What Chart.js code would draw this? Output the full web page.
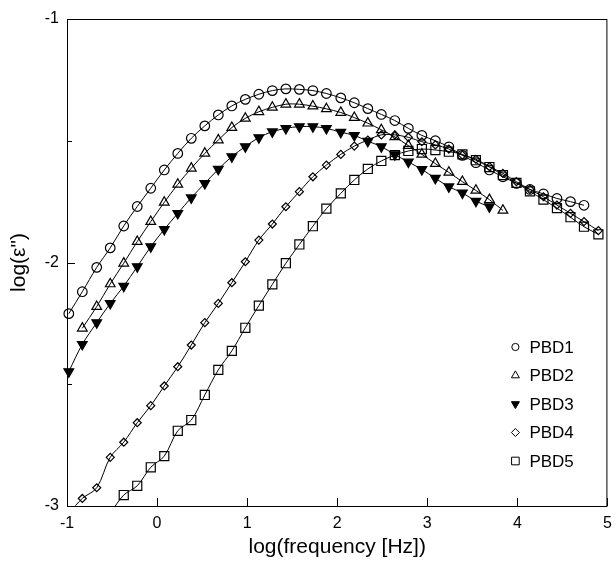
<!DOCTYPE html>
<html>
<head>
<meta charset="utf-8">
<script src="https://cdn.jsdelivr.net/npm/chart.js@4"></script>
<style>
html, body { margin:0; padding:0; background:#fff; }
#wrap { position:relative; width:615px; height:562px; }
</style>
</head>
<body>
<div id="wrap"><canvas id="c"></canvas></div>
<script>
// log10 of frequency, shared grid
const logF = [-0.98, -0.83, -0.67, -0.52, -0.37, -0.22, -0.07, 0.08, 0.23, 0.38,
	0.53, 0.68, 0.83, 0.98, 1.13, 1.28, 1.43, 1.58, 1.73, 1.88,
	2.04, 2.19, 2.34, 2.49, 2.64, 2.79, 2.94, 3.09, 3.24, 3.39,
	3.54, 3.69, 3.84, 3.99, 4.14, 4.29, 4.44, 4.59, 4.74, 4.90];

const pbd1 = [-2.21, -2.12, -2.02, -1.94, -1.85, -1.77, -1.695, -1.62, -1.552, -1.49,
	-1.439, -1.394, -1.357, -1.33, -1.309, -1.294, -1.287, -1.289, -1.294, -1.306,
	-1.324, -1.344, -1.368, -1.392, -1.417, -1.449, -1.478, -1.500, -1.525, -1.560,
	-1.590, -1.620, -1.648, -1.675, -1.700, -1.718, -1.737, -1.750, -1.765, null];

const pbd2 = [null, -2.27, -2.181, -2.088, -2.003, -1.914, -1.832, -1.753, -1.679, -1.613,
	-1.552, -1.497, -1.446, -1.408, -1.381, -1.363, -1.350, -1.350, -1.358, -1.369,
	-1.384, -1.405, -1.428, -1.455, -1.484, -1.520, -1.556, -1.594, -1.630, -1.668,
	-1.704, -1.742, -1.786, null, null, null, null, null, null, null];

const pbd3 = [-2.448, -2.336, -2.247, -2.168, -2.097, -2.017, -1.935, -1.864, -1.798, -1.734,
	-1.675, -1.617, -1.565, -1.524, -1.487, -1.463, -1.449, -1.442, -1.442, -1.449,
	-1.465, -1.478, -1.502, -1.524, -1.557, -1.587, -1.618, -1.654, -1.689, -1.714,
	-1.748, -1.771, null, null, null, null, null, null, null, null];

const pbd4 = [-3.03, -2.969, -2.925, -2.800, -2.738, -2.658, -2.588, -2.507, -2.428, -2.339,
	-2.247, -2.168, -2.083, -1.997, -1.908, -1.842, -1.771, -1.709, -1.648, -1.600,
	-1.556, -1.522, -1.497, -1.476, -1.476, -1.486, -1.504, -1.517, -1.534, -1.559,
	-1.576, -1.606, -1.634, -1.668, -1.700, -1.730, -1.764, -1.798, -1.832, -1.869];

const pbd5 = [null, null, null, -3.03, -2.955, -2.917, -2.841, -2.795, -2.691, -2.647,
	-2.544, -2.441, -2.363, -2.268, -2.177, -2.090, -2.003, -1.926, -1.851, -1.779,
	-1.716, -1.661, -1.616, -1.583, -1.559, -1.542, -1.534, -1.538, -1.545, -1.556,
	-1.580, -1.608, -1.641, -1.673, -1.708, -1.742, -1.777, -1.814, -1.853, -1.884];

const names = ['PBD1', 'PBD2', 'PBD3', 'PBD4', 'PBD5'];
const xTicks = [-1, 0, 1, 2, 3, 4, 5];
const yMajor = [-1, -2, -3];
const yMinor = [-1.5, -2.5];

const pts = v => logF.map((x, i) => ({x, y: v[i]})).filter(p => p.y !== null);

const FONT = '"Liberation Sans", Arial, sans-serif';

const mk = (label, data, style, r, fill, rot, lr) => ({
	label,
	data: pts(data),
	borderColor: '#000',
	borderWidth: 1,
	backgroundColor: fill,
	pointStyle: style,
	pointRadius: r,
	pointRotation: rot || 0,
	pointBorderColor: '#000',
	pointBackgroundColor: fill,
	pointBorderWidth: 1.2,
	tension: 0.35,
	fill: false,
	clip: {left: 8, right: 8, top: 8, bottom: 0},
	legendR: lr,
});

// frame, inward ticks and the in-plot legend
const frame = {
	id: 'frame',
	afterDraw(chart) {
		const c = chart.ctx, a = chart.chartArea;
		const sx = chart.scales.x, sy = chart.scales.y;
		c.save();
		c.strokeStyle = '#000';
		c.lineWidth = 1;
		c.strokeRect(a.left + 0.5, a.top + 0.5, a.right - a.left - 1, a.bottom - a.top);
		c.beginPath();
		xTicks.forEach(t => {
			const px = Math.round(sx.getPixelForValue(t)) + 0.5;
			c.moveTo(px, a.bottom);
			c.lineTo(px, a.bottom - 8);
		});
		yMajor.forEach(t => {
			const py = Math.round(sy.getPixelForValue(t)) + 0.5;
			c.moveTo(a.left, py);
			c.lineTo(a.left + 8, py);
		});
		yMinor.forEach(t => {
			const py = Math.round(sy.getPixelForValue(t)) + 0.5;
			c.moveTo(a.left, py);
			c.lineTo(a.left + 5, py);
		});
		c.stroke();

		// legend
		c.font = '17px ' + FONT;
		c.textBaseline = 'middle';
		c.textAlign = 'left';
		chart.data.datasets.forEach((d, i) => {
			const y = a.bottom - 159 + i * 28.5;
			const x = a.right - 92;
			c.fillStyle = d.pointBackgroundColor;
			c.strokeStyle = '#000';
			Chart.helpers.drawPoint(c, {pointStyle: d.pointStyle, rotation: d.pointRotation, radius: d.legendR, borderWidth: 1.1}, x, y);
			c.fillStyle = '#000';
			c.fillText(d.label, a.right - 78, y + 1);
		});
		c.restore();
	}
};

new Chart(document.getElementById('c'), {
	type: 'line',
	data: {
		datasets: [
			mk(names[0], pbd1, 'circle', 4.8, 'rgba(0,0,0,0)', 0, 3.6),
			mk(names[1], pbd2, 'triangle', 5.6, 'rgba(0,0,0,0)', 0, 4.6),
			mk(names[2], pbd3, 'triangle', 5.6, '#000', 180, 4.6),
			mk(names[3], pbd4, 'rectRot', 4, 'rgba(0,0,0,0)', 0, 4),
			mk(names[4], pbd5, 'rect', 6.4, 'rgba(0,0,0,0)', 0, 5.4),
		]
	},
	options: {
		responsive: true,
		maintainAspectRatio: false,
		animation: false,
		layout: { padding: {left: 0, right: 5, top: 19, bottom: 0} },
		plugins: {
			legend: { display: false },
			tooltip: { enabled: false },
		},
		scales: {
			x: {
				type: 'linear',
				min: -1, max: 5,
				afterFit: s => { s.height = 56; s.paddingLeft = 0; s.paddingRight = 0; },
				afterBuildTicks: s => { s.ticks = xTicks.map(v => ({value: v})); },
				grid: { display: false, drawTicks: false },
				border: { display: false },
				ticks: { color: '#000', padding: 8, font: { size: 16, family: FONT } },
				title: { display: true, text: 'log(frequency [Hz])', color: '#000', padding: {top: 0, bottom: 2}, font: { size: 21, family: FONT } }
			},
			y: {
				type: 'linear',
				min: -3, max: -1,
				afterFit: s => { s.width = 67; s.paddingTop = 0; s.paddingBottom = 0; },
				afterBuildTicks: s => { s.ticks = yMajor.map(v => ({value: v})); },
				grid: { display: false, drawTicks: false },
				border: { display: false },
				ticks: { color: '#000', padding: 8, font: { size: 16, family: FONT } },
				title: { display: true, text: 'log(ε")', color: '#000', padding: {top: 7, bottom: 0}, font: { size: 21, family: FONT } }
			}
		}
	},
	plugins: [frame]
});
</script>
</body>
</html>
